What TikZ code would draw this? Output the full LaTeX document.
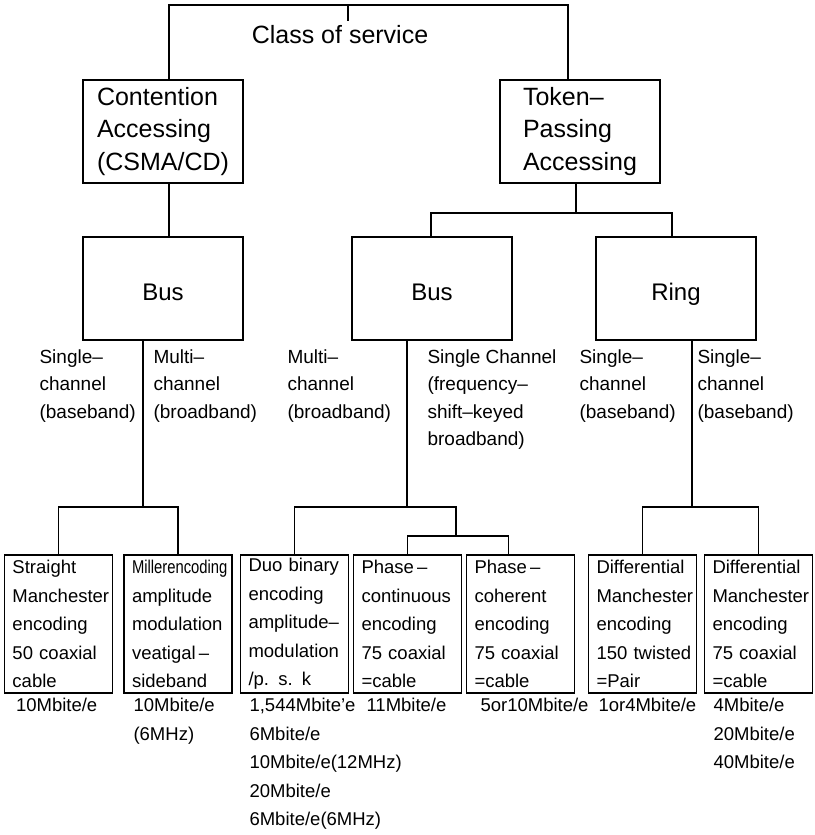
\documentclass[tikz,border=0pt]{standalone}
\usepackage{fontspec}
\setmainfont{Liberation Sans}
\usepackage{graphicx}
\usetikzlibrary{positioning}

\begin{document}
\begin{tikzpicture}[
    x=1pt, y=-1pt,
    line width=1.1pt,
    topbox/.style={draw, outer sep=0pt, minimum width=160pt, minimum height=103pt, align=left, font=\fontsize{25}{32.5}\selectfont},
    netbox/.style={draw, outer sep=0pt, minimum width=160pt, minimum height=103pt, text height=24pt, text depth=0pt, font=\fontsize{24}{28}\selectfont},
    encbox/.style={draw, outer sep=0pt, minimum width=108pt, minimum height=138pt, text width=92pt, inner xsep=8pt, inner ysep=2pt, align=left, font=\fontsize{18.5}{28.5}\selectfont},
    lbl/.style={anchor=north west, inner sep=0pt, align=left, font=\fontsize{19}{27.5}\selectfont},
    rate/.style={inner sep=0pt, align=left, font=\fontsize{18.5}{28.5}\selectfont}
]
\useasboundingbox (0,0) rectangle (814,835);

% class of service
\node[inner sep=0pt, font=\fontsize{25}{30}\selectfont] (cos) at (340,35) {Class of service};
\node[topbox] (cont) at (163,131.5) {Contention\\Accessing\\(CSMA/CD)};
\node[topbox, right=257pt of cont] (tok) {Token--\\Passing\\Accessing};

% topologies
\node[netbox, below=54pt of cont] (bus1) {Bus};
\node[netbox, right=109pt of bus1] (bus2) {Bus};
\node[netbox, right=84pt of bus2] (ring) {Ring};

% channel labels
\node[lbl] (lsgl1) at (39,349) {Single--\\channel\\(baseband)};
\node[lbl] (lmul1) at (153,349) {Multi--\\channel\\(broadband)};
\node[lbl] (lmul2) at (287,349) {Multi--\\channel\\(broadband)};
\node[lbl] (lsch) at (427,349) {Single Channel\\(frequency--\\shift--keyed\\broadband)};
\node[lbl] (lsgl2) at (579,349) {Single--\\channel\\(baseband)};
\node[lbl] (lsgl3) at (697,349) {Single--\\channel\\(baseband)};

% encodings
\node[encbox] (strt) at (58.5,624) {Straight\\Manchester\\encoding\\50~coaxial\\cable};
\node[encbox, right=11.5pt of strt] (mill) {\scalebox{0.8}[1]{Millerencoding}\\amplitude\\modulation\\veatigal\,--\\sideband};
\node[encbox, right=8.5pt of mill] (duo) {Duo~binary\\encoding\\amplitude--\\modulation\\/p. s. k};
\node[encbox, right=5pt of duo] (pcon) {Phase\,--\\continuous\\encoding\\75~coaxial\\=cable};
\node[encbox, right=5pt of pcon] (pcoh) {Phase\,--\\coherent\\encoding\\75~coaxial\\=cable};
\node[encbox, right=14pt of pcoh] (dm150) {Differential\\Manchester\\encoding\\150~twisted\\=Pair};
\node[encbox, right=8pt of dm150] (dm75) {Differential\\Manchester\\encoding\\75~coaxial\\=cable};

% rates
\node[rate, below right=5pt and 11pt of strt.south west] (r1) {10Mbite/e};
\node[rate, below right=5pt and 9pt of mill.south west] (r2) {10Mbite/e\\(6MHz)};
\node[rate, below right=5pt and 8.5pt of duo.south west] (r3) {1,544Mbite'e\\6Mbite/e\\10Mbite/e(12MHz)\\20Mbite/e\\6Mbite/e(6MHz)};
\node[rate, below right=5pt and 12.5pt of pcon.south west] (r4) {11Mbite/e};
\node[rate, below right=5pt and 13.5pt of pcoh.south west] (r5) {5or10Mbite/e};
\node[rate, below right=5pt and 9.5pt of dm150.south west] (r6) {1or4Mbite/e};
\node[rate, below right=5pt and 8.5pt of dm75.south west] (r7) {4Mbite/e\\20Mbite/e\\40Mbite/e};

% tree lines
\coordinate (root) at (348,5);
\coordinate (tl) at (169,5);
\coordinate (tr) at (568,5);
\coordinate (tj) at (576,213);
\coordinate (tjl) at (431,213);
\coordinate (tjr) at (672,213);
\coordinate (bj1) at (143,507);
\coordinate (bj2) at (407,507);
\coordinate (bj3) at (692,507);
\coordinate (pj) at (456,536);

\draw (root) -- ([yshift=4pt]cos.north -| root);
\draw (tl |- cont.north) -- (tl) -- (tr) -- (tr |- tok.north);
\draw (cont.south -| tl) -- (bus1.north -| tl);
\draw (tok.south -| tj) -- (tj);
\draw (tjl |- bus2.north) -- (tjl) -- (tjr) -- (tjr |- ring.north);

\draw (bus1.south -| bj1) -- (bj1);
\draw (strt.north) |- (bj1) -| (mill.north);
\draw (bus2.south -| bj2) -- (bj2);
\draw (duo.north) |- (bj2) -- (bj2 -| pj) -- (pj);
\draw (pcon.north) |- (pj) -| ([xshift=-12pt]pcoh.north);
\draw (ring.south -| bj3) -- (bj3);
\draw (dm150.north) |- (bj3) -| (dm75.north);
\end{tikzpicture}
\end{document}
